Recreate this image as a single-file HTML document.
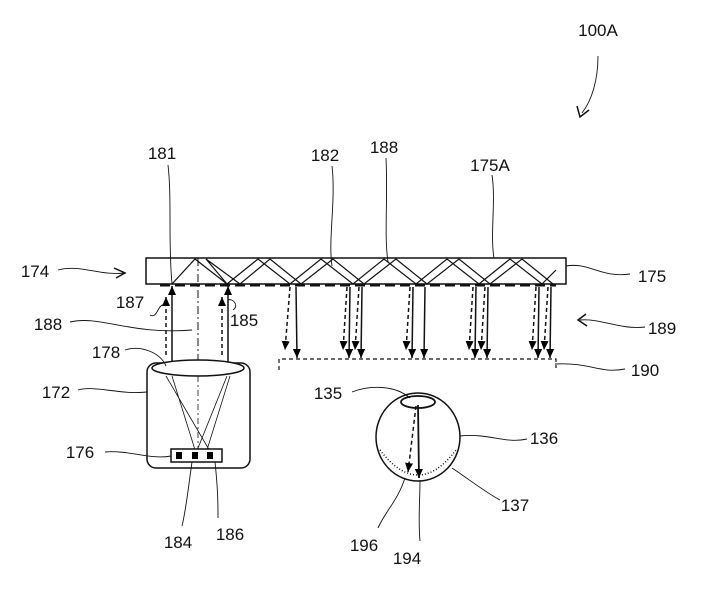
<!DOCTYPE html>
<html><head><meta charset="utf-8"><style>
html,body{margin:0;padding:0;background:#fff;overflow:hidden;}
svg{display:block;}
text{font-family:"Liberation Sans",sans-serif;font-size:17px;fill:#111;text-anchor:middle;}
</style></head><body>
<svg width="710" height="596" viewBox="0 0 710 596" xmlns="http://www.w3.org/2000/svg">
<defs>
<marker id="a" markerWidth="9" markerHeight="8" refX="9" refY="4" orient="auto" markerUnits="userSpaceOnUse" viewBox="0 0 9 8"><path d="M0,0 L9,4 L0,8z" fill="#000"/></marker>
</defs>
<g fill="none" stroke="#111" stroke-width="1.5">
<rect x="146" y="258" width="420" height="26"/>
<polyline stroke-width="1.2" points="172,284 195,259 227,284 258,259 290,284 321,259 353,284 384,259 416,284 447,259 479,284 510,259 542,284 556,270"/>
<polyline stroke-width="1.2" points="227,284 206,259 240,284 270,259 301,284 333,259 364,284 396,259 427,284 459,259 490,284 522,259 553,284"/>
<line x1="160" y1="285" x2="556" y2="285" stroke-width="3" stroke-dasharray="10,5"/>
<line x1="198" y1="258" x2="198" y2="365" stroke-width="1" stroke-dasharray="8,3,2,3"/>
<line x1="172" y1="362" x2="172" y2="286" marker-end="url(#a)"/>
<line x1="228" y1="362" x2="228" y2="286" marker-end="url(#a)"/>
<line x1="166" y1="355" x2="166" y2="297" stroke-dasharray="4,3" marker-end="url(#a)"/>
<line x1="222" y1="355" x2="222" y2="297" stroke-dasharray="4,3" marker-end="url(#a)"/>
<g>
<line x1="290" y1="287" x2="285" y2="350" stroke-dasharray="4,3" marker-end="url(#a)"/>
<line x1="296" y1="287" x2="297" y2="358" marker-end="url(#a)"/>
<line x1="350" y1="287" x2="349" y2="358" marker-end="url(#a)"/>
<line x1="347" y1="287" x2="343" y2="350" stroke-dasharray="4,3" marker-end="url(#a)"/>
<line x1="362" y1="287" x2="361" y2="358" marker-end="url(#a)"/>
<line x1="359" y1="287" x2="355" y2="350" stroke-dasharray="4,3" marker-end="url(#a)"/>
<line x1="413" y1="287" x2="412" y2="358" marker-end="url(#a)"/>
<line x1="410" y1="287" x2="406" y2="350" stroke-dasharray="4,3" marker-end="url(#a)"/>
<line x1="425" y1="287" x2="424" y2="358" marker-end="url(#a)"/>
<line x1="476" y1="287" x2="475" y2="358" marker-end="url(#a)"/>
<line x1="473" y1="287" x2="469" y2="350" stroke-dasharray="4,3" marker-end="url(#a)"/>
<line x1="488" y1="287" x2="487" y2="358" marker-end="url(#a)"/>
<line x1="485" y1="287" x2="481" y2="350" stroke-dasharray="4,3" marker-end="url(#a)"/>
<line x1="539" y1="287" x2="538" y2="358" marker-end="url(#a)"/>
<line x1="536" y1="287" x2="532" y2="350" stroke-dasharray="4,3" marker-end="url(#a)"/>
<line x1="551" y1="287" x2="550" y2="358" marker-end="url(#a)"/>
<line x1="548" y1="287" x2="544" y2="350" stroke-dasharray="4,3" marker-end="url(#a)"/>
</g>
<path d="M279,370 V359 H556 V368" stroke-dasharray="4,3" stroke-width="1.2"/>
<rect x="147" y="363" width="103" height="105" rx="9"/>
<ellipse cx="198" cy="368" rx="46" ry="8" fill="#fff"/>
<path d="M172,376 L196,453 L227,376 M166,376 L211,453 M230,376 L206,453" stroke-width="0.8"/>
<line x1="198" y1="376" x2="198" y2="452" stroke-width="0.8" stroke-dasharray="6,3,2,3"/>
<rect x="171" y="449" width="51" height="13" fill="#fff"/>
<rect x="176" y="452" width="6" height="7" fill="#000" stroke="none"/>
<rect x="192" y="452" width="6" height="7" fill="#000" stroke="none"/>
<rect x="207" y="452" width="6" height="7" fill="#000" stroke="none"/>
<ellipse cx="418" cy="437" rx="42" ry="44"/>
<ellipse cx="418" cy="402" rx="17" ry="6" stroke-width="1.8"/>
<path d="M380,450 Q418,500 456,450" stroke-dasharray="1,2" stroke-width="1.5"/>
<line x1="418" y1="405" x2="419" y2="478" stroke-width="1.8" marker-end="url(#a)"/>
<line x1="416" y1="406" x2="408" y2="472" stroke-dasharray="4,3" marker-end="url(#a)"/>
<g stroke-width="0.9">
<path d="M168,165 C172,200 168,240 172,284"/>
<path d="M332,166 C336,200 328,240 332,266"/>
<path d="M386,158 C388,200 384,235 388,262"/>
<path d="M492,175 C496,200 490,235 494,258"/>
<path d="M566,266 C590,262 600,278 630,274"/>
<path d="M555,364 C590,362 600,374 625,369"/>
<path d="M70,322 C100,315 130,335 192,330"/>
<path d="M150,315 C158,320 158,300 166,306"/>
<path d="M233,310 C240,305 232,298 228,300"/>
<path d="M125,350 C140,345 160,352 166,366"/>
<path d="M78,390 C95,385 120,395 147,392"/>
<path d="M105,452 C130,450 150,460 171,456"/>
<path d="M192,462 C188,490 186,510 182,526"/>
<path d="M215,462 C218,490 218,505 218,518"/>
<path d="M352,392 C370,385 395,385 410,398"/>
<path d="M460,436 C490,433 505,444 527,439"/>
<path d="M452,468 C470,480 485,492 500,500"/>
<path d="M405,478 C398,500 385,512 378,528"/>
<path d="M420,480 C420,500 418,520 420,541"/>
<path d="M58,270 C80,264 100,276 124,273"/>
<path d="M645,327 C620,330 600,318 580,320"/>
<path d="M598,56 C598,80 592,100 582,113"/>
</g>
<path d="M114,268 L125,273 L116,278" stroke-width="1.5"/>
<path d="M586,314 L578,320 L587,326" stroke-width="1.5"/>
<path d="M577,106 L580,117 L589,110" stroke-width="1.5"/>
</g>
<text x="598" y="36">100A</text>
<text x="162" y="159">181</text>
<text x="325" y="161">182</text>
<text x="384" y="153">188</text>
<text x="490" y="171">175A</text>
<text x="35" y="277">174</text>
<text x="652" y="282">175</text>
<text x="130" y="308">187</text>
<text x="48" y="330">188</text>
<text x="244" y="326">185</text>
<text x="662" y="334">189</text>
<text x="106" y="358">178</text>
<text x="645" y="376">190</text>
<text x="56" y="398">172</text>
<text x="328" y="399">135</text>
<text x="544" y="444">136</text>
<text x="80" y="458">176</text>
<text x="515" y="511">137</text>
<text x="178" y="548">184</text>
<text x="230" y="540">186</text>
<text x="364" y="551">196</text>
<text x="407" y="564">194</text>
</svg>
</body></html>
